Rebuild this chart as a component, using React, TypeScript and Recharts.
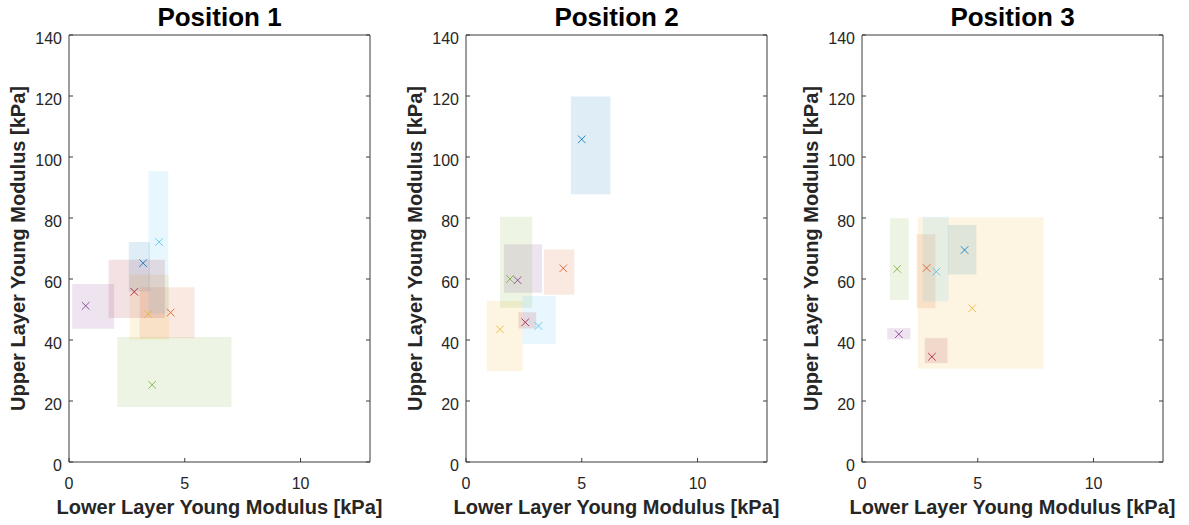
import React from 'react';
import { ScatterChart, Scatter, XAxis, YAxis, ReferenceArea } from 'recharts';

const COLORS = ['#0072BD', '#D95319', '#EDB120', '#7E2F8E', '#77AC30', '#4DBEEE', '#A2142F'];
const X_TICKS = [0, 5, 10];
const Y_TICKS = [0, 20, 40, 60, 80, 100, 120, 140];
const TITLES = ['Position 1', 'Position 2', 'Position 3'];
const X_LABEL = 'Lower Layer Young Modulus [kPa]';
const Y_LABEL = 'Upper Layer Young Modulus [kPa]';

// Position 1
const px1 = [3.2, 4.39, 3.43, 0.72, 3.59, 3.89, 2.82];
const py1 = [65.2, 49.0, 48.5, 51.2, 25.3, 72.1, 55.8];
const xLo1 = [2.58, 3.05, 2.62, 0.14, 2.09, 3.43, 1.71];
const xHi1 = [3.5, 5.42, 4.32, 1.95, 7.02, 4.29, 4.14];
const yLo1 = [55.9, 40.6, 40.1, 43.7, 18.0, 48.7, 47.2];
const yHi1 = [72.1, 57.3, 61.4, 58.4, 41.0, 95.4, 66.3];

// Position 2
const px2 = [5.0, 4.2, 1.47, 2.23, 1.9, 3.13, 2.56];
const py2 = [105.8, 63.5, 43.5, 59.6, 60.0, 44.6, 45.8];
const xLo2 = [4.53, 3.36, 0.89, 1.64, 1.47, 2.44, 2.26];
const xHi2 = [6.24, 4.68, 2.44, 3.29, 2.86, 3.88, 3.03];
const yLo2 = [87.8, 54.8, 29.8, 55.5, 50.6, 38.7, 43.8];
const yHi2 = [119.8, 69.7, 52.8, 71.4, 80.4, 54.4, 49.1];

// Position 3
const px3 = [4.43, 2.79, 4.76, 1.59, 1.52, 3.21, 3.02];
const py3 = [69.5, 63.6, 50.4, 41.9, 63.3, 62.4, 34.5];
const xLo3 = [3.71, 2.36, 2.41, 1.09, 1.21, 2.62, 2.71];
const xHi3 = [4.94, 3.17, 7.84, 2.09, 2.02, 3.74, 3.69];
const yLo3 = [61.5, 50.4, 30.6, 40.2, 53.1, 52.6, 32.4];
const yHi3 = [77.7, 74.7, 80.2, 43.9, 79.9, 80.4, 40.6];

const PANELS = [
  { px: px1, py: py1, xLo: xLo1, xHi: xHi1, yLo: yLo1, yHi: yHi1 },
  { px: px2, py: py2, xLo: xLo2, xHi: xHi2, yLo: yLo2, yHi: yHi2 },
  { px: px3, py: py3, xLo: xLo3, xHi: xHi3, yLo: yLo3, yHi: yHi3 },
];

const FONT = '"Liberation Sans", Arial, Helvetica, sans-serif';
const AXIS_COLOR = '#3a3a3a';
const TEXT_COLOR = '#262626';
const TICK_LEN = 4;

const PANEL_W = 397;
const H = 525;
// plot area: left 69, right 370, top 35, bottom 462 (axes take 1px each)
const M = { top: 34, right: 26, bottom: 62, left: 68 };
const PLOT = { left: 69, right: 370, top: 35, bottom: 462 };

const BottomTick = (p: any) => {
  const { x, y, payload } = p;
  return (
    <g>
      <line x1={x} y1={y} x2={x} y2={y - TICK_LEN} stroke={AXIS_COLOR} strokeWidth={1} />
      <text x={x} y={y + 27} textAnchor="middle" fontSize={16} fontFamily={FONT} fill={TEXT_COLOR}>
        {payload.value}
      </text>
    </g>
  );
};
const TopTick = (p: any) => {
  const { x, y } = p;
  return <line x1={x} y1={y} x2={x} y2={y + TICK_LEN} stroke={AXIS_COLOR} strokeWidth={1} />;
};
const LeftTick = (p: any) => {
  const { x, y, payload } = p;
  return (
    <g>
      <line x1={x} y1={y} x2={x + TICK_LEN} y2={y} stroke={AXIS_COLOR} strokeWidth={1} />
      <text x={x - 7} y={y + 3} dy="0.36em" textAnchor="end" fontSize={16} fontFamily={FONT} fill={TEXT_COLOR}>
        {payload.value}
      </text>
    </g>
  );
};
const RightTick = (p: any) => {
  const { x, y } = p;
  return <line x1={x} y1={y} x2={x - TICK_LEN} y2={y} stroke={AXIS_COLOR} strokeWidth={1} />;
};

const makeMark = (color: string) => (p: any) => {
  const { cx, cy } = p;
  const r = 3.8;
  return (
    <g>
      <line x1={cx - r} y1={cy - r} x2={cx + r} y2={cy + r} stroke={color} strokeWidth={1} strokeOpacity={0.8} />
      <line x1={cx - r} y1={cy + r} x2={cx + r} y2={cy - r} stroke={color} strokeWidth={1} strokeOpacity={0.8} />
    </g>
  );
};

const Panel = ({ idx }: { idx: number }) => {
  const d = PANELS[idx];
  const cxPlot = (PLOT.left + PLOT.right) / 2;
  const cyPlot = (PLOT.top + PLOT.bottom) / 2;
  return (
    <div style={{ position: 'absolute', left: idx * PANEL_W - (idx === 2 ? 1 : 0), top: 0, width: PANEL_W, height: H }}>
      <ScatterChart width={PANEL_W} height={H} margin={M}>
        <XAxis
          xAxisId="b"
          type="number"
          dataKey="x"
          orientation="bottom"
          domain={[0, 13]}
          ticks={X_TICKS}
          interval={0}
          allowDataOverflow
          height={1}
          tickSize={0}
          tickMargin={0}
          tickLine={false}
          tick={<BottomTick />}
          axisLine={{ stroke: AXIS_COLOR, strokeWidth: 1 }}
        />
        <XAxis
          xAxisId="t"
          type="number"
          orientation="top"
          domain={[0, 13]}
          ticks={X_TICKS}
          interval={0}
          allowDataOverflow
          height={1}
          tickSize={0}
          tickMargin={0}
          tickLine={false}
          tick={<TopTick />}
          axisLine={{ stroke: AXIS_COLOR, strokeWidth: 1 }}
        />
        <YAxis
          yAxisId="l"
          type="number"
          dataKey="y"
          orientation="left"
          domain={[0, 140]}
          ticks={Y_TICKS}
          interval={0}
          allowDataOverflow
          width={1}
          tickSize={0}
          tickMargin={0}
          tickLine={false}
          tick={<LeftTick />}
          axisLine={{ stroke: AXIS_COLOR, strokeWidth: 1 }}
        />
        <YAxis
          yAxisId="r"
          type="number"
          orientation="right"
          domain={[0, 140]}
          ticks={Y_TICKS}
          interval={0}
          allowDataOverflow
          width={1}
          tickSize={0}
          tickMargin={0}
          tickLine={false}
          tick={<RightTick />}
          axisLine={{ stroke: AXIS_COLOR, strokeWidth: 1 }}
        />
        {COLORS.map((c, i) => (
          <ReferenceArea
            key={'a' + i}
            xAxisId="b"
            yAxisId="l"
            x1={d.xLo[i]}
            x2={d.xHi[i]}
            y1={d.yLo[i]}
            y2={d.yHi[i]}
            fill={c}
            fillOpacity={0.13}
            stroke="none"
            ifOverflow="visible"
          />
        ))}
        {COLORS.map((c, i) => (
          <Scatter
            key={'s' + i}
            xAxisId="b"
            yAxisId="l"
            data={[{ x: d.px[i], y: d.py[i] }]}
            fill={c}
            shape={makeMark(c)}
            isAnimationActive={false}
          />
        ))}
      </ScatterChart>
      <svg
        width={PANEL_W}
        height={H}
        style={{ position: 'absolute', left: 0, top: 0, pointerEvents: 'none' }}
      >
        <text x={cxPlot} y={26} textAnchor="middle" fontSize={26} fontWeight="bold" fontFamily={FONT} fill="#000">
          {TITLES[idx]}
        </text>
        <text x={cxPlot} y={514} textAnchor="middle" fontSize={20} fontWeight="bold" fontFamily={FONT} fill={TEXT_COLOR}>
          {X_LABEL}
        </text>
        <text
          transform={`translate(24.5, ${cyPlot}) rotate(-90)`}
          textAnchor="middle"
          fontSize={20}
          fontWeight="bold"
          fontFamily={FONT}
          fill={TEXT_COLOR}
        >
          {Y_LABEL}
        </text>
      </svg>
    </div>
  );
}

export default function App() {
  return (
    <div style={{ position: 'absolute', left: 0, top: 0, width: 1189, height: H, background: '#fff', overflow: 'hidden' }}>
      <Panel idx={0} />
      <Panel idx={1} />
      <Panel idx={2} />
    </div>
  );
}
